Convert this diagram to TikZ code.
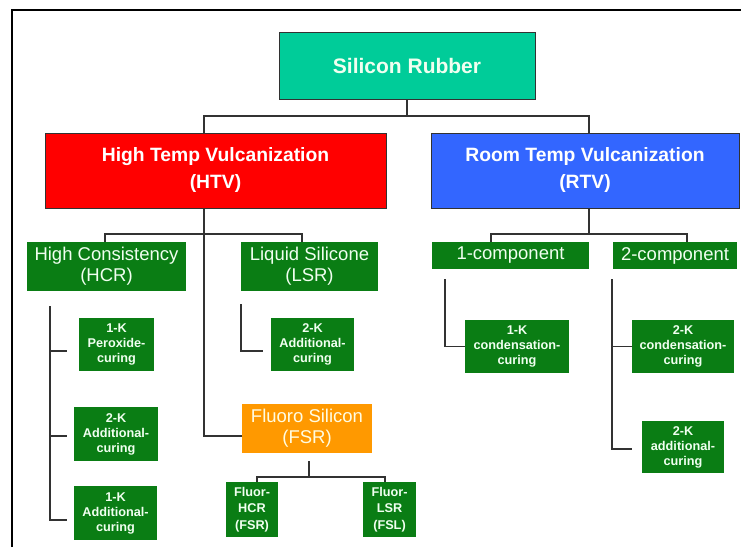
\documentclass[tikz,border=0pt]{standalone}
\usepackage{fontspec}
\setmainfont{Liberation Sans}
\definecolor{dgreen}{RGB}{10,125,20}
\definecolor{teal1}{RGB}{0,204,153}
\definecolor{red1}{RGB}{255,0,0}
\definecolor{blue1}{RGB}{51,102,255}
\definecolor{orange1}{RGB}{255,153,0}
\definecolor{lnk}{RGB}{50,50,50}
\definecolor{paletxt}{RGB}{240,255,240}
\definecolor{creamtxt}{RGB}{255,252,225}
\tikzset{
  box/.style={rectangle, inner sep=0pt, align=center},
  head/.style={box, draw=lnk, line width=1pt, text=white, font=\bfseries\fontsize{19.3}{27}\selectfont},
  mid/.style={box, fill=dgreen, text=paletxt, font=\fontsize{18.5}{21}\selectfont},
  leaf/.style={box, fill=dgreen, text=paletxt, font=\bfseries\fontsize{12.7}{15}\selectfont},
  link/.style={draw=lnk, line width=1.1pt},
}
\begin{document}
\begin{tikzpicture}[x=1pt, y=-1pt]
\useasboundingbox (0,0) rectangle (741,547);
\fill[white] (0,0) rectangle (741,547);
% frame
\draw[black, line width=1.5pt] (12,547) -- (12,10) -- (741,10);

% nodes
\node[head, fill=teal1, minimum width=256pt, minimum height=67pt, font=\bfseries\fontsize{21}{25}\selectfont, text=paletxt] (sr) at (407,65.5) {Silicon Rubber};
\node[head, fill=red1, minimum width=341pt, minimum height=75pt] (htv) at (215.5,170.5) {High Temp Vulcanization\\(HTV)};
\node[head, fill=blue1, minimum width=308pt, minimum height=75pt] (rtv) at (585,170.5) {Room Temp Vulcanization\\(RTV)};

\node[mid, minimum width=159pt, minimum height=49pt] (hcr) at (106.5,266.5) {High Consistency\\(HCR)};
\node[mid, minimum width=137pt, minimum height=49pt] (lsr) at (309.5,266.5) {Liquid Silicone\\(LSR)};
\node[mid, minimum width=157pt, minimum height=27pt] (onec) at (510.5,255.5) {1-component};
\node[mid, minimum width=124pt, minimum height=27pt] (twoc) at (675,255.5) {2-component};
\node[mid, fill=orange1, text=creamtxt, minimum width=130pt, minimum height=49pt] (fsr) at (307,428.5) {Fluoro Silicon\\(FSR)};

\node[leaf, minimum width=75pt, minimum height=53pt] (pero) at (116.5,344.5) {1-K\\Peroxide-\\curing};
\node[leaf, minimum width=84pt, minimum height=54pt] (addh2) at (116,434) {2-K\\Additional-\\curing};
\node[leaf, minimum width=83pt, minimum height=54pt] (addh1) at (115.5,513) {1-K\\Additional-\\curing};
\node[leaf, minimum width=83pt, minimum height=53pt] (addl) at (312.5,344.5) {2-K\\Additional-\\curing};
\node[leaf, minimum width=52pt, minimum height=55pt, font=\bfseries\fontsize{12.7}{16.5}\selectfont] (fhcr) at (252,509.5) {Fluor-\\HCR\\(FSR)};
\node[leaf, minimum width=53pt, minimum height=55pt, font=\bfseries\fontsize{12.7}{16.5}\selectfont] (flsr) at (389.5,509.5) {Fluor-\\LSR\\(FSL)};
\node[leaf, minimum width=104pt, minimum height=53pt] (cond1) at (517,346.5) {1-K\\condensation-\\curing};
\node[leaf, minimum width=102pt, minimum height=53pt] (cond2) at (683,346.5) {2-K\\condensation-\\curing};
\node[leaf, minimum width=82pt, minimum height=52pt] (addr) at (683,447) {2-K\\additional-\\curing};

% junction coordinates
\coordinate (j0) at (407,116);
\coordinate (htvin) at (204,133);
\coordinate (rtvin) at (589,133);
\coordinate (htvout) at (204,208);
\coordinate (j1) at (204,234);
\coordinate (hcrin) at (105,242);
\coordinate (lsrin) at (302,242);
\coordinate (fsrin) at (242,436);
\coordinate (rtvout) at (589,208);
\coordinate (j2) at (589,234);
\coordinate (onecin) at (491,242);
\coordinate (twocin) at (687,242);
\coordinate (hcrb) at (50,306);
\coordinate (hk1) at (67,351);
\coordinate (hk2) at (67,436);
\coordinate (hk3) at (67,520);
\coordinate (lsrb) at (241,304);
\coordinate (lk1) at (263,351);
\coordinate (fsrb) at (309,461);
\coordinate (j3) at (309,477);
\coordinate (fhcrin) at (257,482);
\coordinate (flsrin) at (385,482);
\coordinate (onecb) at (445,279);
\coordinate (twocb) at (612,279);
\coordinate (tk2) at (632,449);

% connectors
\draw[link] (sr.south) -- (j0);
\draw[link] (j0) -| (htvin);
\draw[link] (j0) -| (rtvin);
\draw[link] (htvout) |- (fsrin);
\draw[link] (j1) -| (hcrin);
\draw[link] (j1) -| (lsrin);
\draw[link] (rtvout) -- (j2);
\draw[link] (j2) -| (onecin);
\draw[link] (j2) -| (twocin);
\draw[link] (hcrb) |- (hk3);
\draw[link] (hcrb |- hk1) -- (hk1);
\draw[link] (hcrb |- hk2) -- (hk2);
\draw[link] (lsrb) |- (lk1);
\draw[link] (fsrb) -- (j3);
\draw[link] (j3) -| (fhcrin);
\draw[link] (j3) -| (flsrin);
\draw[link] (onecb) |- (cond1.west);
\draw[link] (twocb) |- (tk2);
\draw[link] (twocb |- cond2.west) -- (cond2.west);
\end{tikzpicture}
\end{document}
